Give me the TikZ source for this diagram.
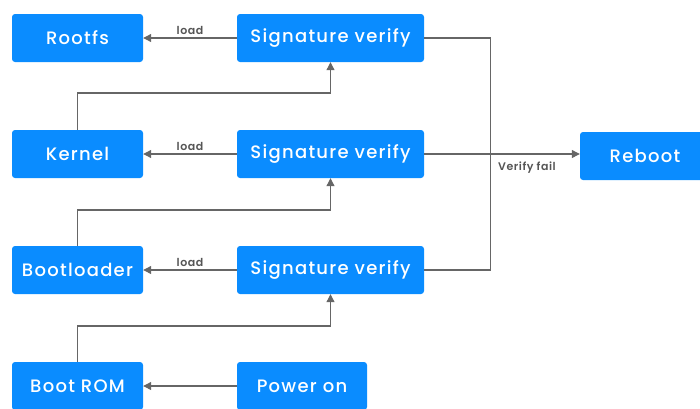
\documentclass[tikz,border=0pt]{standalone}
\usepackage{fontspec}
\setmainfont{Poppins}[BoldFont={Poppins SemiBold}]
\newfontfamily\boxfont{Poppins Medium}
\usetikzlibrary{arrows.meta}
\definecolor{boxblue}{HTML}{0A8CFF}
\definecolor{linegray}{HTML}{666666}
\definecolor{labelgray}{HTML}{555555}
\tikzset{
  x=1pt, y=-1pt,
  stage/.style={draw=none, fill=boxblue, rounded corners=3pt, text=white,
    font=\boxfont\fontsize{18}{20}\selectfont\addfontfeature{LetterSpace=7}, inner sep=0pt,
    minimum height=48pt, anchor=center},
  smallbox/.style={stage, minimum width=131pt},
  widebox/.style={stage, minimum width=187pt},
  flow/.style={draw=linegray, line width=1.1pt, -{Triangle[length=8pt,width=8pt]}},
  wire/.style={draw=linegray, line width=1.1pt},
  tag/.style={text=labelgray, font=\fontsize{11}{13}\bfseries\selectfont\addfontfeature{LetterSpace=5}, inner sep=1pt}
}
\begin{document}
\begin{tikzpicture}
\useasboundingbox (0,0) rectangle (700,408);
\begin{scope}
\clip (0,0) rectangle (700,408);
% stages of the chain of trust
\node[smallbox] (rootfs) at (77.5,38) {Rootfs};
\node[smallbox] (kernel) at (77.5,154) {Kernel};
\node[smallbox] (boot) at (77.5,270) {Bootloader};
\node[smallbox] (rom) at (77.5,386) {Boot ROM};
\node[widebox] (sv1) at (330.5,38) {Signature verify};
\node[widebox] (sv2) at (330.5,154) {Signature verify};
\node[widebox] (sv3) at (330.5,270) {Signature verify};
\node[stage, minimum width=130pt] (power) at (302,386) {Power on};
\node[stage, minimum width=130pt] (reboot) at (645,156) {Reboot};

% load after a successful check
\draw[flow] (sv1) -- node[tag, above, pos=0.5, yshift=2pt] {load} (rootfs);
\draw[flow] (sv2) -- node[tag, above, pos=0.5, yshift=2pt] {load} (kernel);
\draw[flow] (sv3) -- node[tag, above, pos=0.5, yshift=2pt] {load} (boot);
\draw[flow] (power) -- (rom);

% each stage verifies the next one
\draw[flow] (kernel.north) |- (330.5,93) -- (sv1.south);
\draw[flow] (boot.north) |- (330.5,210) -- (sv2.south);
\draw[flow] (rom.north) |- (330.5,326) -- (sv3.south);

% failure path
\coordinate (bus) at (490.5,154);
\draw[wire] (sv1.east) -| (bus);
\draw[wire] (sv3.east) -| (bus);
\draw[flow] (sv2.east) -- (sv2.east -| reboot.west);
\node[tag, anchor=north west] (fail) at (497,161) {Verify fail};
\end{scope}
\end{tikzpicture}
\end{document}
